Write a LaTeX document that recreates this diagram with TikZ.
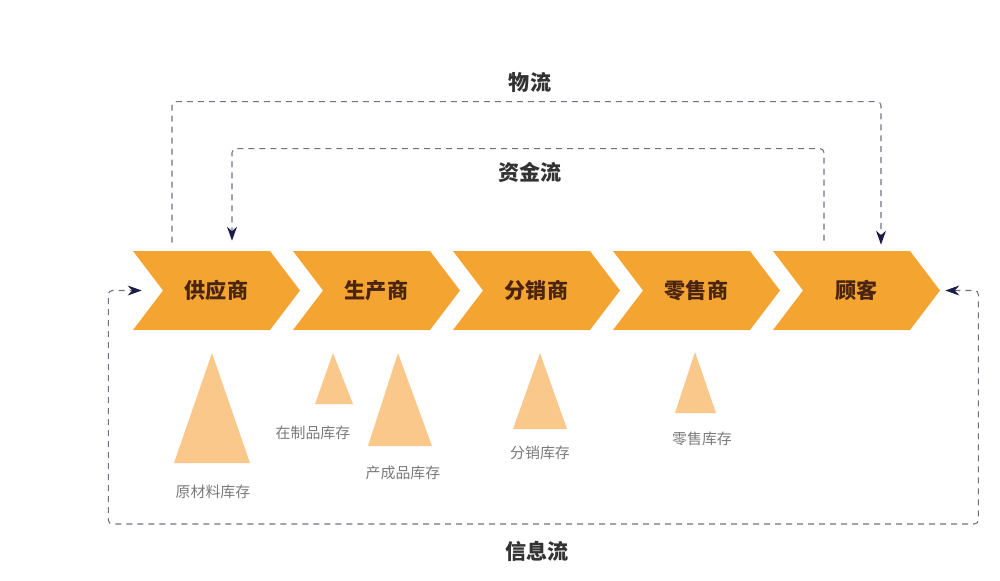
\documentclass[tikz,border=0pt]{standalone}
\usepackage{fontspec}
\setmainfont{Noto Sans CJK SC}
\usetikzlibrary{arrows.meta}
\definecolor{chevorange}{HTML}{F4A431}
\definecolor{stockorange}{HTML}{FBC88C}
\definecolor{chevbrown}{HTML}{4A2410}
\definecolor{flowgray}{HTML}{6E7282}
\definecolor{tipblue}{HTML}{1C1C48}
\definecolor{labelgray}{HTML}{7A7A7A}
\tikzset{flowtip/.tip={Stealth[length=0.28cm,width=0.2cm,color=tipblue]}}
\begin{document}
\begin{tikzpicture}[x=0.02cm,y=-0.02cm,
    chev/.style={fill=chevorange},
    chevtext/.style={minimum width=3.34cm,minimum height=1.58cm,inner sep=0pt,
        font=\fontsize{12}{14}\selectfont\bfseries,text=chevbrown},
    stock/.style={fill=stockorange},
    stocklabel/.style={font=\fontsize{8.5}{10}\selectfont,text=labelgray,inner sep=1pt},
    flowlabel/.style={font=\fontsize{12}{14}\selectfont\bfseries,text=black!80},
    flowline/.style={draw=flowgray,line width=0.6pt,dash pattern=on 0.12cm off 0.1cm,
        rounded corners=0.08cm}]
    \useasboundingbox (0,0) rectangle (1000,581);

    % chevrons
    \foreach \n/\t [count=\i from 0] in {sup/供应商,pro/生产商,dis/分销商,ret/零售商,cus/顾客}
        {\fill[chev] (133+160*\i,251) -- ++(137,0) -- ++(30,39.5) -- ++(-30,39.5)
            -- ++(-137,0) -- ++(30,-39.5) -- cycle;
         \node[chevtext] (\n) at (216.5+160*\i,290.5) {\t};}

    % flows
    \draw[flowline,-flowtip] ([xshift=-0.89cm,yshift=0.16cm]sup.north) -- ++(0,-141)
        -| ([xshift=0.49cm,yshift=0.12cm]cus.north);
    \draw[flowline,-flowtip] ([xshift=-0.65cm,yshift=0.2cm]cus.north) -- ++(0,-92)
        -| ([xshift=0.31cm,yshift=0.2cm]sup.north);
    \draw[flowline,flowtip-flowtip] ([xshift=0.1cm]cus.east) -- ++(33,0) -- ++(0,233.5)
        -- ++(-870,0) -- ++(0,-233.5) -- ([xshift=0.18cm]sup.west);

    \node[flowlabel] (wl) at (530,82) {物流};
    \node[flowlabel] (zjl) at (530,172) {资金流};
    \node[flowlabel] (xxl) at (537,551) {信息流};

    % stocks
    \fill[stock] (212,353) -- (250,463) -- (174,463) -- cycle;
    \fill[stock] (333,353) -- (353,404) -- (315,404) -- cycle;
    \fill[stock] (398,353) -- (432,446) -- (368,446) -- cycle;
    \fill[stock] (540,353) -- (567,429) -- (513,429) -- cycle;
    \fill[stock] (695,352) -- (716,413) -- (675,413) -- cycle;

    \node[stocklabel] (ycl) at (213,492) {原材料库存};
    \node[stocklabel] (zzp) at (313,433) {在制品库存};
    \node[stocklabel] (ccp) at (403,473) {产成品库存};
    \node[stocklabel] (fx) at (540,453) {分销库存};
    \node[stocklabel] (ls) at (702,439) {零售库存};
\end{tikzpicture}
\end{document}
